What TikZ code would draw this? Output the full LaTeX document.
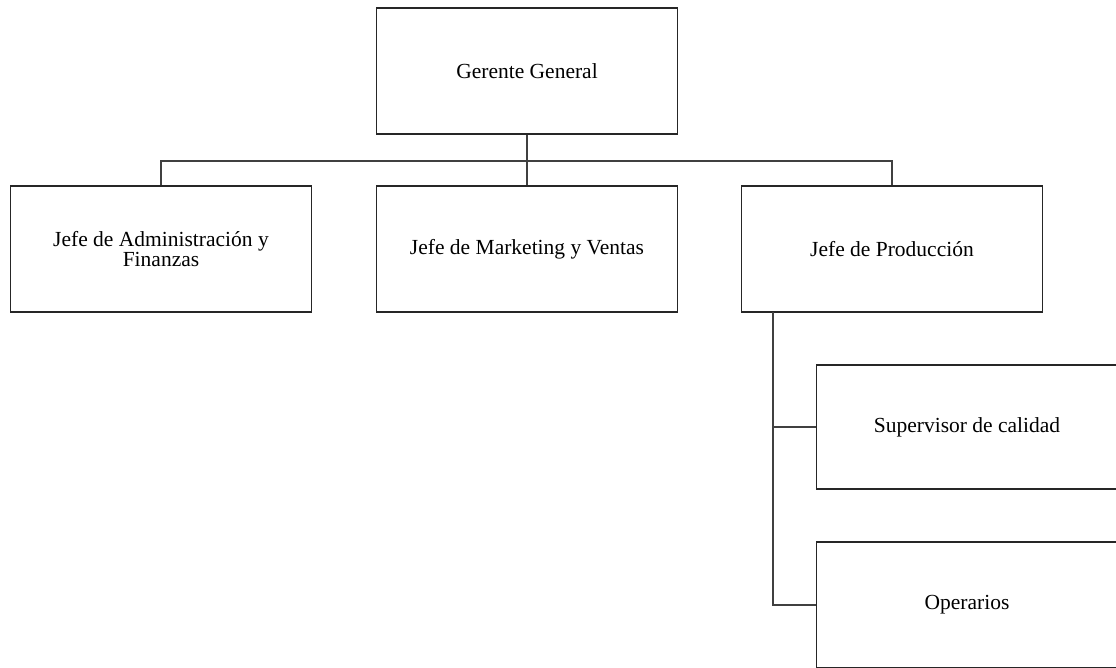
\documentclass[tikz,border=0pt]{standalone}
\usepackage{fontspec}
\setmainfont{Liberation Serif}
\begin{document}
\begin{tikzpicture}[x=1pt,y=-1pt,
  orgbox/.style={draw=black!85, line width=1.7pt, rectangle, inner sep=0pt,
    minimum width=301pt, minimum height=126pt, align=center,
    font=\fontsize{21.5}{20}\selectfont},
  link/.style={draw=black!75, line width=1.7pt}]
  \useasboundingbox (0,0) rectangle (1116,668);
  % top level
  \node[orgbox] (gg) at (527,71) {Gerente General};
  % second level
  \node[orgbox] (adm) at (161,249) {Jefe de Administración y\\Finanzas};
  \node[orgbox] (mkt) at (527,249) {Jefe de Marketing y Ventas};
  \node[orgbox] (prod) at (892,249) {Jefe de Producción};
  % third level under production
  \node[orgbox, minimum height=124pt] (sup) at (967,427) {Supervisor de calidad};
  \node[orgbox] (op) at (967,605) {Operarios};
  % connectors
  \coordinate (bus) at (527,161);
  \draw[link] (gg.south) -- (mkt.north);
  \draw[link] (adm.north) |- (bus) -| (prod.north);
  \coordinate (pv) at (773,312);
  \draw[link] (pv) |- (op.west);
  \draw[link] (pv |- sup.west) -- (sup.west);
\end{tikzpicture}
\end{document}
